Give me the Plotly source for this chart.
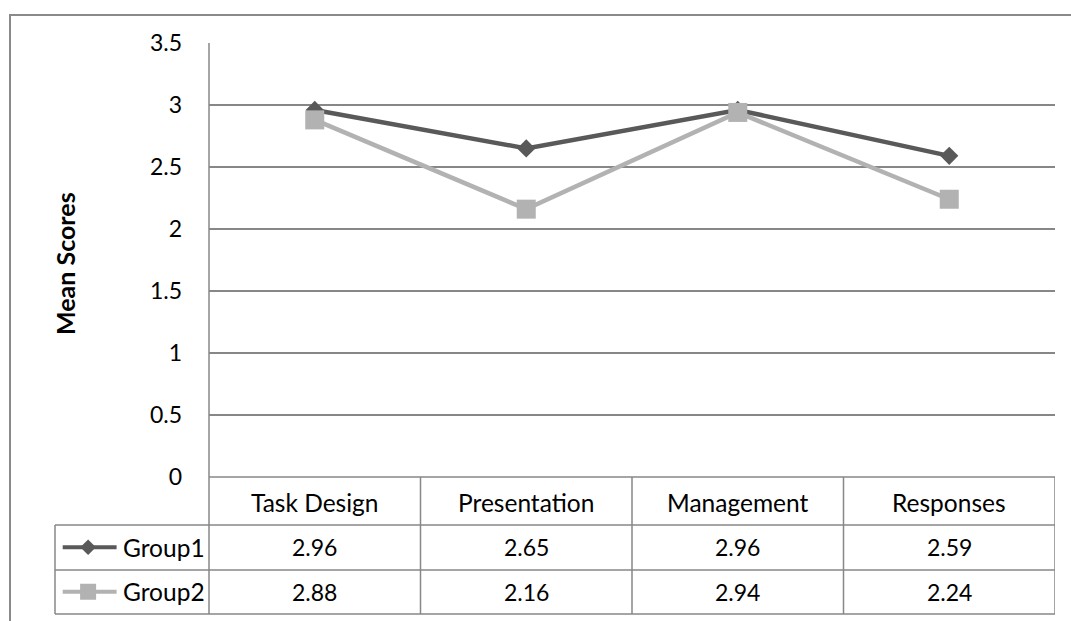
import plotly.graph_objects as go

# Survey dimensions and mean scores per group
categories = ["Task Design", "Presentation", "Management", "Responses"]
group_names = ["Group1", "Group2"]
group1 = [2.96, 2.65, 2.96, 2.59]
group2 = [2.88, 2.16, 2.94, 2.24]
y_ticks = [0, 0.5, 1, 1.5, 2, 2.5, 3, 3.5]
y_tick_labels = ["0", "0.5", "1", "1.5", "2", "2.5", "3", "3.5"]

W, H = 1071, 621
FONT = "Lato"
FS_TEXT = 24.5
FS_NUM = 23
GRID = "#878787"
COLORS = ["#595959", "#b2b2b2"]
SYMBOLS = ["diamond", "square"]
SIZES = [14, 19]


def px_x(p):
    return p / W


def px_y(p):
    return 1 - p / H


# plot-area and table geometry (pixels)
plot_l, plot_r, plot_t, plot_b = 209, 1055, 43, 477
leg_l = 55
row_edges = [477, 525, 570, 614]

series = [group1, group2]
xs = list(range(len(categories)))

fig = go.Figure()

for name, vals, col, sym, sz in zip(group_names, series, COLORS, SYMBOLS, SIZES):
    fig.add_trace(go.Scatter(
        x=xs, y=vals, name=name, mode="lines+markers",
        line=dict(color=col, width=4.5),
        marker=dict(symbol=sym, size=sz, color=col),
        xaxis="x", yaxis="y", showlegend=False, cliponaxis=False,
    ))

# legend keys inside the table's first column
for i, (name, col, sym) in enumerate(zip(group_names, COLORS, SYMBOLS)):
    row = len(group_names) - 1 - i
    fig.add_trace(go.Scatter(
        x=[0.05, 0.4], y=[row, row], mode="lines",
        line=dict(color=col, width=4), xaxis="x2", yaxis="y2",
        showlegend=False, hoverinfo="skip",
    ))
    fig.add_trace(go.Scatter(
        x=[0.215], y=[row], mode="markers",
        marker=dict(symbol=sym, size=12 if sym == "diamond" else 16, color=col),
        xaxis="x2", yaxis="y2", showlegend=False, hoverinfo="skip",
    ))

shapes = []
line_style = dict(color=GRID, width=1.5)

# outer chart border
shapes.append(dict(type="rect", xref="paper", yref="paper",
                   x0=px_x(10), x1=px_x(1080), y0=px_y(15), y1=px_y(640),
                   line=dict(color="#8a8a8a", width=2)))

# y axis line running down through the table
shapes.append(dict(type="line", xref="paper", yref="paper",
                   x0=px_x(plot_l), x1=px_x(plot_l),
                   y0=px_y(plot_t), y1=px_y(row_edges[-1]), line=line_style))

# horizontal table lines
shapes.append(dict(type="line", xref="x", yref="paper", x0=-0.5, x1=len(categories) - 0.5,
                   y0=px_y(row_edges[0]), y1=px_y(row_edges[0]), line=line_style))
for r in row_edges[1:]:
    shapes.append(dict(type="line", xref="paper", yref="paper",
                       x0=px_x(leg_l), x1=px_x(plot_r), y0=px_y(r), y1=px_y(r),
                       line=line_style))

# vertical table lines
shapes.append(dict(type="line", xref="paper", yref="paper",
                   x0=px_x(leg_l), x1=px_x(leg_l),
                   y0=px_y(row_edges[1]), y1=px_y(row_edges[-1]), line=line_style))
for i in range(len(categories)):
    shapes.append(dict(type="line", xref="x", yref="paper",
                       x0=i + 0.5, x1=i + 0.5,
                       y0=px_y(row_edges[0]), y1=px_y(row_edges[-1]), line=line_style))

annotations = []
hdr_y = px_y((row_edges[0] + row_edges[1]) / 2 + 1)
for i, c in enumerate(categories):
    annotations.append(dict(x=i, y=hdr_y, xref="x", yref="paper", text=c,
                            xanchor="center", yanchor="middle", showarrow=False,
                            font=dict(family=FONT, size=FS_TEXT, color="#000")))

for gi, (name, vals) in enumerate(zip(group_names, series)):
    row = len(group_names) - 1 - gi
    annotations.append(dict(x=0.43, y=row, xref="x2", yref="y2", text=name,
                            xanchor="left", yanchor="middle", showarrow=False,
                            font=dict(family=FONT, size=FS_TEXT, color="#000")))
    for i, v in enumerate(vals):
        annotations.append(dict(x=i, y=row, xref="x", yref="y2", text=f"{v:.2f}",
                                xanchor="center", yanchor="middle", showarrow=False,
                                font=dict(family=FONT, size=FS_NUM, color="#000")))

annotations.append(dict(x=px_x(65), y=px_y(264), xref="paper", yref="paper",
                        text="<b>Mean Scores</b>", textangle=-90, showarrow=False,
                        xanchor="center", yanchor="middle",
                        font=dict(family=FONT, size=25, color="#000")))

fig.update_layout(
    width=W, height=H,
    margin=dict(l=0, r=0, t=0, b=0, pad=0),
    paper_bgcolor="white", plot_bgcolor="white",
    font=dict(family=FONT, size=FS_NUM, color="#000"),
    xaxis=dict(domain=[px_x(plot_l), px_x(plot_r)], range=[-0.5, len(categories) - 0.5],
               showgrid=False, zeroline=False, showticklabels=False, showline=False,
               automargin=False, fixedrange=True),
    yaxis=dict(domain=[px_y(plot_b), px_y(plot_t)], range=[0, 3.5],
               tickvals=y_ticks, ticktext=y_tick_labels,
               showgrid=True, gridcolor=GRID, gridwidth=1.5, zeroline=False,
               showline=False, ticks="", ticklabelstandoff=26, automargin=False,
               tickfont=dict(family=FONT, size=FS_NUM, color="#000"), fixedrange=True),
    xaxis2=dict(domain=[px_x(leg_l), px_x(plot_l)], range=[0, 1], visible=False,
                anchor="y2", automargin=False, fixedrange=True),
    yaxis2=dict(domain=[px_y(row_edges[-1]), px_y(row_edges[1])], range=[-0.5, 1.5],
                visible=False, anchor="x2", automargin=False, fixedrange=True),
    shapes=shapes,
    annotations=annotations,
)

fig.write_html("out.html")
